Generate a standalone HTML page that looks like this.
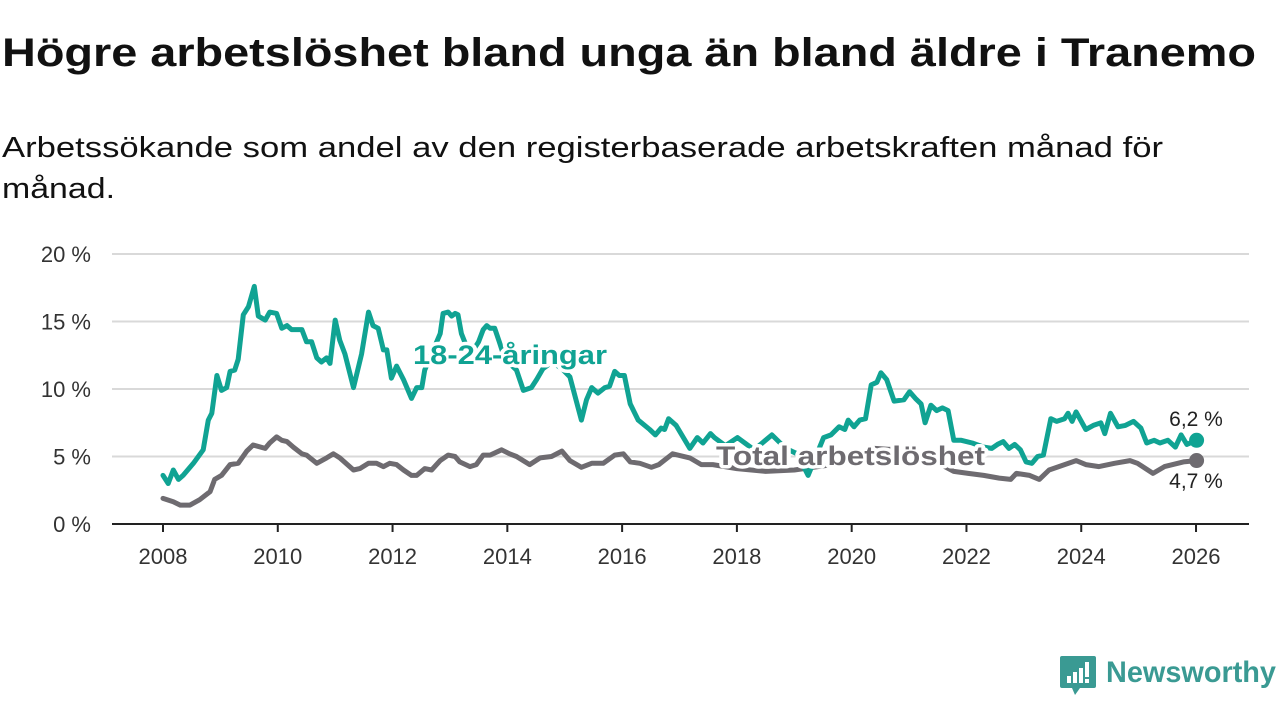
<!DOCTYPE html>
<html><head><meta charset="utf-8"><style>
html,body{margin:0;padding:0;background:#fff;width:1280px;height:720px;overflow:hidden}
body{font-family:"Liberation Sans",sans-serif;color:#111}
svg{position:absolute;left:0;top:0}
</style></head><body>
<svg id="chart" width="1280" height="720">
<text x="2" y="66" font-size="40" font-weight="bold" fill="#111" textLength="1254" lengthAdjust="spacingAndGlyphs">Högre arbetslöshet bland unga än bland äldre i Tranemo</text>
<g>
<text x="2" y="157" font-size="29" fill="#111" textLength="1161" lengthAdjust="spacingAndGlyphs">Arbetssökande som andel av den registerbaserade arbetskraften månad för</text>
<text x="2" y="198" font-size="29" fill="#111" textLength="113" lengthAdjust="spacingAndGlyphs">månad.</text>
</g>
</svg>
<script>
const youthYears=[2008.0,2008.09,2008.18,2008.27,2008.35,2008.53,2008.70,2008.79,2008.85,2008.94,2009.02,2009.11,2009.17,2009.25,2009.31,2009.40,2009.49,2009.59,2009.66,2009.78,2009.86,2009.98,2010.07,2010.16,2010.24,2010.42,2010.50,2010.59,2010.68,2010.76,2010.85,2010.91,2011.00,2011.08,2011.17,2011.32,2011.46,2011.58,2011.66,2011.75,2011.84,2011.90,2011.98,2012.07,2012.19,2012.33,2012.42,2012.51,2012.56,2012.70,2012.83,2012.88,2012.97,2013.03,2013.09,2013.14,2013.20,2013.35,2013.50,2013.58,2013.64,2013.70,2013.78,2013.86,2013.96,2014.16,2014.28,2014.42,2014.51,2014.62,2014.78,2014.95,2015.09,2015.29,2015.38,2015.47,2015.58,2015.70,2015.78,2015.87,2015.95,2016.04,2016.14,2016.28,2016.48,2016.58,2016.68,2016.74,2016.81,2016.94,2017.18,2017.31,2017.41,2017.54,2017.61,2017.80,2018.01,2018.30,2018.61,2018.85,2019.05,2019.24,2019.51,2019.64,2019.78,2019.88,2019.94,2020.04,2020.14,2020.24,2020.34,2020.44,2020.51,2020.61,2020.74,2020.91,2021.01,2021.11,2021.21,2021.28,2021.38,2021.48,2021.58,2021.68,2021.78,2021.91,2022.10,2022.30,2022.44,2022.54,2022.64,2022.74,2022.84,2022.94,2023.04,2023.14,2023.24,2023.34,2023.47,2023.57,2023.71,2023.77,2023.84,2023.91,2024.08,2024.21,2024.34,2024.41,2024.51,2024.64,2024.77,2024.91,2025.04,2025.14,2025.27,2025.37,2025.51,2025.64,2025.74,2025.84,2026.01];
const youthValues=[3.6,3.0,4.0,3.3,3.6,4.5,5.5,7.7,8.2,11.0,9.9,10.1,11.3,11.4,12.2,15.5,16.1,17.6,15.4,15.1,15.7,15.6,14.5,14.7,14.4,14.4,13.5,13.5,12.3,12.0,12.3,11.9,15.1,13.6,12.6,10.1,12.6,15.7,14.7,14.5,12.9,12.9,10.8,11.7,10.7,9.3,10.1,10.1,11.4,12.8,14.1,15.6,15.7,15.4,15.6,15.5,14.1,12.5,13.5,14.4,14.7,14.5,14.5,13.5,12.2,11.4,9.9,10.1,10.7,11.5,12.0,11.5,10.9,7.7,9.2,10.1,9.7,10.1,10.2,11.3,11.0,11.0,8.9,7.7,7.0,6.6,7.1,7.0,7.8,7.3,5.6,6.4,6.0,6.7,6.4,5.8,6.4,5.5,6.6,5.6,5.2,3.6,6.4,6.6,7.2,7.0,7.7,7.2,7.7,7.8,10.3,10.5,11.2,10.7,9.1,9.2,9.8,9.3,8.9,7.5,8.8,8.4,8.6,8.4,6.2,6.2,6.0,5.7,5.6,5.9,6.1,5.6,5.9,5.5,4.6,4.5,5.0,5.1,7.8,7.6,7.8,8.2,7.6,8.3,7.0,7.3,7.5,6.7,8.2,7.2,7.3,7.6,7.1,6.0,6.2,6.0,6.2,5.7,6.6,5.9,6.2];
const totalYears=[2008.0,2008.18,2008.30,2008.47,2008.64,2008.82,2008.90,2009.02,2009.17,2009.31,2009.46,2009.57,2009.78,2009.86,2009.98,2010.07,2010.16,2010.27,2010.42,2010.50,2010.68,2010.85,2010.97,2011.08,2011.32,2011.43,2011.58,2011.72,2011.84,2011.95,2012.07,2012.19,2012.33,2012.42,2012.56,2012.68,2012.83,2012.97,2013.09,2013.17,2013.35,2013.46,2013.58,2013.70,2013.90,2014.04,2014.16,2014.39,2014.57,2014.77,2014.95,2015.09,2015.29,2015.47,2015.67,2015.87,2016.02,2016.14,2016.31,2016.51,2016.64,2016.88,2017.18,2017.38,2017.58,2018.0,2018.5,2019.0,2019.5,2020.0,2020.4,2020.8,2021.2,2021.6,2021.78,2022.03,2022.30,2022.57,2022.77,2022.87,2023.10,2023.27,2023.44,2023.71,2023.91,2024.08,2024.31,2024.58,2024.85,2024.98,2025.25,2025.45,2025.78,2026.01];
const totalValues=[1.9,1.65,1.4,1.4,1.8,2.4,3.3,3.6,4.4,4.5,5.4,5.85,5.6,6.0,6.45,6.2,6.1,5.7,5.2,5.1,4.5,4.9,5.2,4.9,4.0,4.1,4.5,4.5,4.25,4.5,4.4,4.0,3.6,3.6,4.1,4.0,4.7,5.1,5.0,4.6,4.25,4.4,5.1,5.1,5.5,5.2,5.0,4.4,4.9,5.0,5.4,4.7,4.2,4.5,4.5,5.1,5.2,4.6,4.5,4.2,4.4,5.2,4.9,4.4,4.4,4.1,3.9,4.0,4.3,4.6,5.6,5.5,5.0,4.3,3.9,3.75,3.6,3.4,3.3,3.75,3.6,3.3,4.0,4.4,4.7,4.4,4.25,4.5,4.7,4.5,3.75,4.25,4.6,4.7];
const yTicks=[0,5,10,15,20];
const yTickLabels=["0 %","5 %","10 %","15 %","20 %"];
const xTicks=[2008,2010,2012,2014,2016,2018,2020,2022,2024,2026];
const youthLabel="18-24-åringar", totalLabel="Total arbetslöshet";
const youthEnd="6,2 %", totalEnd="4,7 %";

const NS="http://www.w3.org/2000/svg";
const svg=document.getElementById('chart');
const X=y=>163+(y-2008)*57.39;
const Y=v=>524-v*13.5;
function mk(t,a,p){const e=document.createElementNS(NS,t);for(const k in a)e.setAttribute(k,a[k]);(p||svg).appendChild(e);return e;}
const TEAL="#10a393", GRAY="#6e6b70";
yTicks.forEach((v,i)=>{
  if(v>0){const g=mk('line',{x1:112,x2:1249,y1:Y(v),y2:Y(v),stroke:'#d9d9d9','stroke-width':2});
  
  }
  const t=mk('text',{x:91,y:Y(v)+8,'text-anchor':'end','font-size':22,fill:'#333'});
  t.textContent=yTickLabels[i];
  
  
});
const ax=mk('line',{x1:112,x2:1249,y1:524,y2:524,stroke:'#222','stroke-width':2});


xTicks.forEach(yr=>{
  const tk=mk('line',{x1:X(yr),x2:X(yr),y1:524,y2:532,stroke:'#222','stroke-width':2});
  
  
  const t=mk('text',{x:X(yr),y:564,'text-anchor':'middle','font-size':22,fill:'#333'});
  t.textContent=yr;
  
  
});
function line(xs,vs,c,name){
  const d=xs.map((x,i)=>(i?'L':'M')+X(x).toFixed(1)+','+Y(vs[i]).toFixed(1)).join('');
  const p=mk('path',{d:d,fill:'none',stroke:c,'stroke-width':5,'stroke-linejoin':'round','stroke-linecap':'round'});
  
  
  const n=xs.length-1;
  const dot=mk('circle',{cx:X(xs[n]),cy:Y(vs[n]),r:7.5,fill:c});
  
  
}
line(totalYears,totalValues,GRAY,'total-line');
line(youthYears,youthValues,TEAL,'youth-line');
function lbl(txt,x,y,c,name,size,bold,anchor,len){
  const t=mk('text',{x:x,y:y,'font-size':size,'font-weight':bold?'bold':'normal',fill:c,stroke:'#fff','stroke-width':bold?7:5,'paint-order':'stroke','stroke-linejoin':'round','text-anchor':anchor||'start'});
  if(len){t.setAttribute('textLength',len);t.setAttribute('lengthAdjust','spacingAndGlyphs');}
  t.textContent=txt;
  
  
}
lbl(youthLabel,413,364,TEAL,'youth-series-label',27,true,'start',194);
lbl(totalLabel,716,465,GRAY,'total-series-label',27,true,'start',269);
lbl(youthEnd,1196,426,'#222','youth-end-value',21,false,'middle');
lbl(totalEnd,1196,488,'#222','total-end-value',21,false,'middle');
const lg=mk('g',{});


mk('path',{d:'M1062,656 h32 a2,2 0 0 1 2,2 v28 a2,2 0 0 1 -2,2 h-14 l-5,7 l-3,-7 h-10 a2,2 0 0 1 -2,-2 v-28 a2,2 0 0 1 2,-2z',fill:'#3a9a93'},lg);
mk('rect',{x:1067,y:676,width:4,height:7,fill:'#fff'},lg);
mk('rect',{x:1073,y:672,width:4,height:11,fill:'#fff'},lg);
mk('rect',{x:1079,y:668,width:4,height:15,fill:'#fff'},lg);
mk('rect',{x:1085,y:662,width:4,height:15,fill:'#fff'},lg);
mk('rect',{x:1085,y:679,width:4,height:4,fill:'#fff'},lg);
const lt=mk('text',{x:1106,y:682,'font-size':30,'font-weight':'bold',fill:'#3a9a93',textLength:170,lengthAdjust:'spacingAndGlyphs'},lg);
lt.textContent='Newsworthy';
</script>
</body></html>
